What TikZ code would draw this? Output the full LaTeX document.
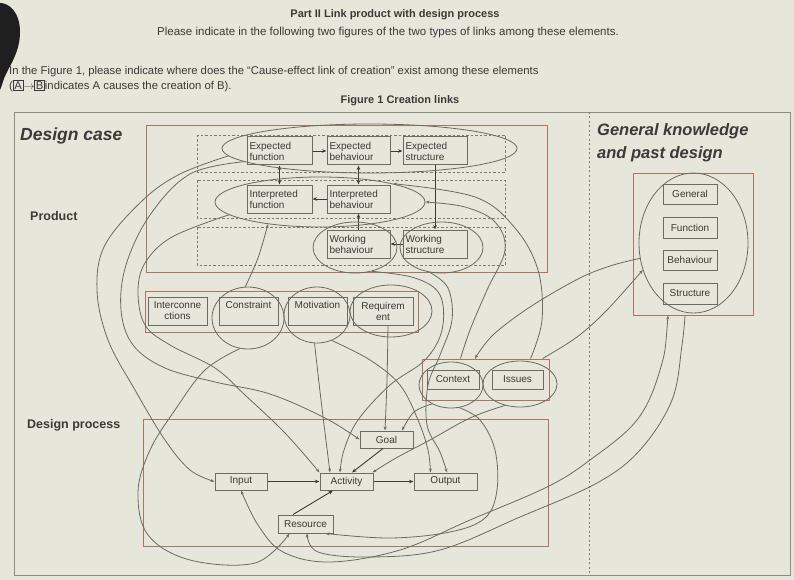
\documentclass[tikz,border=0pt]{standalone}
\usepackage{fontspec}
\setmainfont{Liberation Sans}
\usetikzlibrary{shapes.geometric,arrows.meta}
\definecolor{bg}{HTML}{E7E6DA}
\definecolor{ink}{HTML}{3A3A36}
\definecolor{boxc}{HTML}{6B6B62}
\definecolor{redc}{HTML}{A87668}
\definecolor{handc}{HTML}{6A6A61}
\definecolor{dashc}{HTML}{7A7A72}
\definecolor{framec}{HTML}{8C8C84}
\begin{document}
\begin{tikzpicture}[x=1pt,y=-1pt,
  bx/.style={draw=boxc, line width=1pt, font=\fontsize{10}{11}\selectfont, text=ink, inner sep=0pt, align=left},
  bxc/.style={bx, align=center},
  cont/.style={draw=redc, line width=0.9pt, inner sep=0pt},
  rowd/.style={draw=dashc, line width=0.9pt, dash pattern=on 2.5pt off 2pt},
  hel/.style={ellipse, draw=handc, line width=0.8pt, inner sep=0pt},
  hand/.style={draw=handc, line width=0.8pt},
  pa/.style={draw=ink, line width=0.9pt, -{Stealth[length=4.5pt,width=3.5pt]}},
  pda/.style={draw=ink, line width=0.9pt, {Stealth[length=4.5pt,width=3.5pt]}-{Stealth[length=4.5pt,width=3.5pt]}},
  ha/.style={hand, -{Stealth[length=4pt,width=3pt]}},
  hda/.style={hand, {Stealth[length=4pt,width=3pt]}-{Stealth[length=4pt,width=3pt]}},
  txt/.style={text=ink, inner sep=0pt}
]
\useasboundingbox (0,0) rectangle (794,580);
\fill[bg] (0,0) rectangle (794,580);
% dark corner of the photo
\fill[black!88] (0,3) .. controls (9,3) and (20,12) .. (20,32) .. controls (20,50) and (12,62) .. (6,74) .. controls (3,80) and (2,86) .. (0,90) -- cycle;

% header texts
\node[txt, font=\bfseries\fontsize{11}{13}\selectfont] (title) at (395,15) {Part II Link product with design process};
\node[txt, font=\fontsize{11.5}{13}\selectfont] (sub) at (388,33) {Please indicate in the following two figures of the two types of links among these elements.};
\node[txt, anchor=west, font=\fontsize{11.3}{13}\selectfont] (inst1) at (9,72) {In the Figure 1, please indicate where does the “Cause-effect link of creation” exist among these elements};
\node[txt, anchor=west, font=\fontsize{11.3}{13}\selectfont] (inst2) at (9,86) {\setlength{\fboxsep}{0.8pt}\setlength{\fboxrule}{0.7pt}(\fbox{A}$\rightarrow$\fbox{B}indicates A causes the creation of B).};
\node[txt, font=\bfseries\fontsize{11}{13}\selectfont] (figt) at (400,101) {Figure 1 Creation links};

% frame and separator
\draw[framec, line width=0.9pt] (14,112) rectangle (790,575);
\draw[dashc, line width=0.8pt, dash pattern=on 2pt off 2.5pt] (589,112) -- (589,575);

% section labels
\node[txt, anchor=base west, font=\bfseries\itshape\fontsize{17.5}{20}\selectfont] (dcase) at (20,141) {Design case};
\node[txt, anchor=base west, font=\bfseries\itshape\fontsize{16.5}{19}\selectfont] (gk1) at (597,136) {General knowledge};
\node[txt, anchor=base west, font=\bfseries\itshape\fontsize{16.5}{19}\selectfont] (gk2) at (597,159) {and past design};
\node[txt, anchor=base west, font=\bfseries\fontsize{12.5}{14}\selectfont] (prodl) at (30,220) {Product};
\node[txt, anchor=base west, font=\bfseries\fontsize{12.5}{14}\selectfont] (dprocl) at (27,428) {Design process};

% product area
\draw[cont] (146,125) rectangle (547,272);
\draw[rowd] (197,135) rectangle (505,172);
\draw[rowd] (197,180) rectangle (505,218);
\draw[rowd] (197,227) rectangle (505,265);

\node[bx, minimum width=65pt, minimum height=28pt, text width=60pt] (EF) at (279.5,151) {Expected\\function};
\node[bx, minimum width=63pt, minimum height=28pt, text width=58pt] (EB) at (358.5,151) {Expected\\behaviour};
\node[bx, minimum width=64pt, minimum height=28pt, text width=59pt] (ES) at (435,151) {Expected\\structure};
\node[bx, minimum width=65pt, minimum height=28pt, text width=60pt] (IF) at (279.5,199) {Interpreted\\function};
\node[bx, minimum width=63pt, minimum height=28pt, text width=58pt] (IB) at (358.5,199) {Interpreted\\behaviour};
\node[bx, minimum width=63pt, minimum height=28pt, text width=58pt] (WB) at (358.5,244) {Working\\behaviour};
\node[bx, minimum width=64pt, minimum height=28pt, text width=59pt] (WS) at (435,244) {Working\\structure};

\draw[pa] (EF) -- (EB);
\draw[pa] (EB) -- (ES);
\draw[pda] (EF) -- (IF);
\draw[pda] (EB) -- (IB);
\draw[pa] (IB) -- (IF);
\draw[pa] (WB) -- (IB);
\draw[pa] (ES) -- (WS);
\draw[pa] (WS) -- (WB);

% elements row
\node[cont, minimum width=273pt, minimum height=41pt] (elrow) at (281.5,311.5) {};
\node[bxc, minimum width=59pt, minimum height=28pt] (IC) at (177.5,311) {Interconne\\ctions};
\node[bxc, minimum width=59pt, minimum height=28pt] (CO) at (248.5,311) {Constraint\\\phantom{g}};
\node[bxc, minimum width=59pt, minimum height=28pt] (MO) at (317.5,311) {Motivation\\\phantom{g}};
\node[bxc, minimum width=60pt, minimum height=28pt] (RQ) at (383,311) {Requirem\\ent};

% context row
\node[cont, minimum width=127pt, minimum height=41pt] (ctxrow) at (485.5,379.5) {};
\node[bxc, minimum width=52pt, minimum height=19pt] (CX) at (453,379.5) {Context};
\node[bxc, minimum width=51pt, minimum height=19pt] (IS) at (517.5,379.5) {Issues};

% design process
\draw[cont] (143,419) rectangle (548,546);
\node[bxc, minimum width=53pt, minimum height=17pt] (GO) at (386.5,439.5) {Goal};
\node[bxc, minimum width=52pt, minimum height=17pt] (IN) at (241,481.5) {Input};
\node[bxc, minimum width=53pt, minimum height=17pt] (AC) at (346.5,481.5) {Activity};
\node[bxc, minimum width=63pt, minimum height=17pt] (OU) at (445.5,481.5) {Output};
\node[bxc, minimum width=55pt, minimum height=18pt] (RE) at (305.5,524) {Resource};

\draw[pa] (IN) -- (AC);
\draw[pa] (AC) -- (OU);
\draw[pa] ([xshift=-3.5pt]GO.south) -- ([xshift=5.5pt]AC.north);
\draw[pa] ([xshift=-12.5pt]RE.north) -- ([xshift=-13.5pt]AC.south);

% general knowledge
\node[cont, minimum width=120pt, minimum height=142pt] (gkbox) at (693,244) {};
\node[bxc, minimum width=54pt, minimum height=20pt] (GE) at (690,194) {General};
\node[bxc, minimum width=54pt, minimum height=21pt] (FU) at (690,227.5) {Function};
\node[bxc, minimum width=54pt, minimum height=20pt] (BE) at (690,260) {Behaviour};
\node[bxc, minimum width=54pt, minimum height=21pt] (ST) at (690,293.5) {Structure};

% hand-drawn groupings
\node[hel, minimum width=295pt, minimum height=49pt] (e1) at (369.5,148.5) {};
\node[hel, minimum width=210pt, minimum height=50pt] (e2) at (320,202) {};
\node[hel, minimum width=84pt, minimum height=51pt] (e3) at (355,247.5) {};
\node[hel, minimum width=83pt, minimum height=51pt] (e4) at (441.5,247.5) {};
\node[hel, minimum width=72pt, minimum height=62pt] (e5) at (248,318) {};
\node[hel, minimum width=66pt, minimum height=56pt] (e6) at (317,315) {};
\node[hel, minimum width=82pt, minimum height=52pt] (e7) at (391,311) {};
\node[hel, minimum width=64pt, minimum height=46pt] (e8) at (451,385) {};
\node[hel, minimum width=74pt, minimum height=46pt] (e9) at (520,384) {};
\node[hel, minimum width=109pt, minimum height=140pt] (e10) at (693.5,243) {};

% hand-drawn links
\draw[ha] plot[smooth, tension=0.6] coordinates {(e1.183) (180,174) (143,200) (105,245) (97,290) (108,340) (135,390) (165,440) (190,470) (IN.west)};
\draw[ha] plot[smooth, tension=0.6] coordinates {(e1.186) (190,174) (150,215) (126,265) (121,310) (133,345) (165,368) (215,382) (270,394) (325,418) (GO.west)};
\draw[ha] plot[smooth, tension=0.6] coordinates {(e2.188) (172,237) (145,263) (138,292) (145,325) (170,345) (215,368) (245,395) (285,433) (AC.north west)};
\draw[ha] plot[smooth, tension=0.6] coordinates {(e5.255) (205,370) (175,410) (150,450) (138,492) (148,535) (190,560) (255,563) ([xshift=12pt]RE.south west)};
\draw[ha] plot[smooth, tension=0.6] coordinates {(e6.265) (321,400) ([xshift=-16.5pt]AC.north)};
\draw[ha] plot[smooth, tension=0.6] coordinates {(e6.300) (370,360) (400,385) (418,420) (428,450) ([xshift=-15pt]OU.north)};
\draw[ha] plot[smooth, tension=0.6] coordinates {([xshift=5pt]RQ.south) (387,380) ([xshift=-1.5pt]GO.north)};
\draw[ha] plot[smooth, tension=0.6] coordinates {(e3.305) (415,278) (440,295) (442,330) (425,360) (390,385) (358,420) (344,450) ([xshift=-6.5pt]AC.north)};
\draw[ha] plot[smooth, tension=0.6] coordinates {(e4.245) (448,288) (452,320) (440,355) (428,385) (427,425) (440,452) ([xshift=1.5pt]OU.north)};
\draw[ha] plot[smooth, tension=0.6] coordinates {(e8.225) (414,412) ([xshift=15.5pt]GO.north)};
\draw[ha] plot[smooth, tension=0.6] coordinates {(e9.235) (470,418) (430,440) (396,458) ([xshift=26pt]AC.north)};
\draw[ha] plot[smooth, tension=0.6] coordinates {(e8.290) (480,420) (495,450) (497,490) (485,518) (450,532) (390,538) ([xshift=-8pt]RE.south east)};
\draw[ha] plot[smooth, tension=0.6] coordinates {([xshift=-8pt]gkbox.south) (682,345) (672,400) (640,450) (597,483) (520,517) (440,550) (370,557) (318,552) ([xshift=1.5pt]RE.south)};
\draw[hda] plot[smooth, tension=0.6] coordinates {([xshift=-25pt]gkbox.south) (660,370) (637,420) (590,460) (547,487) (470,520) (400,550) (330,562) (283,552) (258,525) (IN.south)};
\draw[ha] plot[smooth, tension=0.6] coordinates {(e10.196) (610,266) (578,279) (530,307) (493,335) ([xshift=-10.5pt]ctxrow.north)};
\draw[ha] plot[smooth, tension=0.6] coordinates {([xshift=-7pt]ctxrow.north east) (577,337) (607,310) (e10.208)};
\draw[ha] plot[smooth, tension=0.6] coordinates {([xshift=-25pt]ctxrow.north) (470,330) (487,290) (505,250) (495,222) (465,207) (e2.east)};
\draw[ha] plot[smooth, tension=0.6] coordinates {([xshift=45pt]ctxrow.north) (542,320) (538,270) (515,228) (475,197) (e2.14)};
\draw[ha] plot[smooth, tension=0.6] coordinates {(e5.95) (258,258) (e2.203)};
\end{tikzpicture}
\end{document}
